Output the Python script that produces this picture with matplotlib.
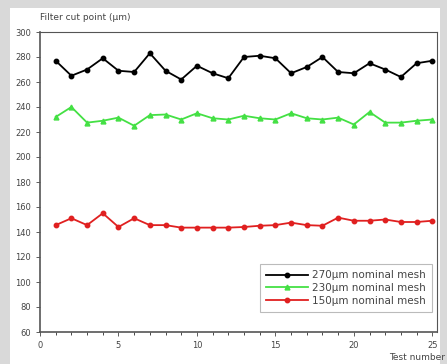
import matplotlib
matplotlib.use("Agg")
import matplotlib.pyplot as plt
from matplotlib.patches import Rectangle
from matplotlib.ticker import MultipleLocator

test_number = list(range(1, 26))
mesh_270 = [277, 265, 270, 279, 269, 268, 283, 269, 262, 273, 267, 263, 280,
            281, 279, 267, 272, 280, 268, 267, 275, 270, 264, 275, 277]
mesh_230 = [232, 240, 227.5, 229, 231.5, 225, 233.5, 234, 230, 235, 231, 230, 233,
            231, 230, 235, 231, 230, 231.5, 226, 236, 227.5, 227.5, 229, 230]
mesh_150 = [145.5, 151, 145.5, 155, 144, 151, 145.5, 145.5, 143.5, 143.5, 143.5, 143.5,
            144, 145, 145.5, 147.5, 145.5, 145, 151.5, 149, 149, 150, 148, 148, 149]
labels = ["270\u03bcm nominal mesh", "230\u03bcm nominal mesh", "150\u03bcm nominal mesh"]

TXT = "#444444"

fig = plt.figure(figsize=(4.47, 3.64), dpi=100)
fig.patch.set_facecolor("#d9d9d9")
fig.add_artist(Rectangle((10 / 447, 0), 430 / 447, 356 / 364, transform=fig.transFigure,
                         facecolor="white", edgecolor="none", zorder=0))

ax = fig.add_axes([40 / 447, 32 / 364, 397 / 447, 300 / 364])
ax.plot(test_number, mesh_270, color="black", marker="o", ms=3.2, lw=1.3, label=labels[0])
ax.plot(test_number, mesh_230, color="#44e044", marker="^", ms=3.5, lw=1.3, label=labels[1])
ax.plot(test_number, mesh_150, color="#e02020", marker="o", ms=3.2, lw=1.3, label=labels[2])

ax.set_xlim(0, 25.3)
ax.set_ylim(60, 300)
ax.xaxis.set_major_locator(MultipleLocator(5))
ax.xaxis.set_minor_locator(MultipleLocator(1))
ax.yaxis.set_major_locator(MultipleLocator(20))
ax.tick_params(labelsize=6, colors=TXT, length=3, width=0.6)
ax.tick_params(which="minor", length=2, width=0.5)
for s in ax.spines.values():
    s.set_color("#555555")
    s.set_linewidth(0.8)
ax.spines["left"].set_linewidth(1.2)
ax.spines["bottom"].set_linewidth(1.2)

fig.text(40 / 447, 346 / 364, "Filter cut point (\u03bcm)", fontsize=6.5, color=TXT,
         ha="left", va="center")
fig.text(445 / 447, 6 / 364, "Test number", fontsize=6.5, color=TXT,
         ha="right", va="center")

leg = ax.legend(loc="lower right", fontsize=7.5, frameon=True, fancybox=False,
                handlelength=4.0, borderpad=0.6, labelspacing=0.25, handletextpad=0.4,
                bbox_to_anchor=(1.0, 0.05))
leg.get_frame().set_edgecolor("#aaaaaa")
leg.get_frame().set_linewidth(0.8)
for t in leg.get_texts():
    t.set_color(TXT)

fig.savefig("out.png", dpi=100, facecolor=fig.get_facecolor())
